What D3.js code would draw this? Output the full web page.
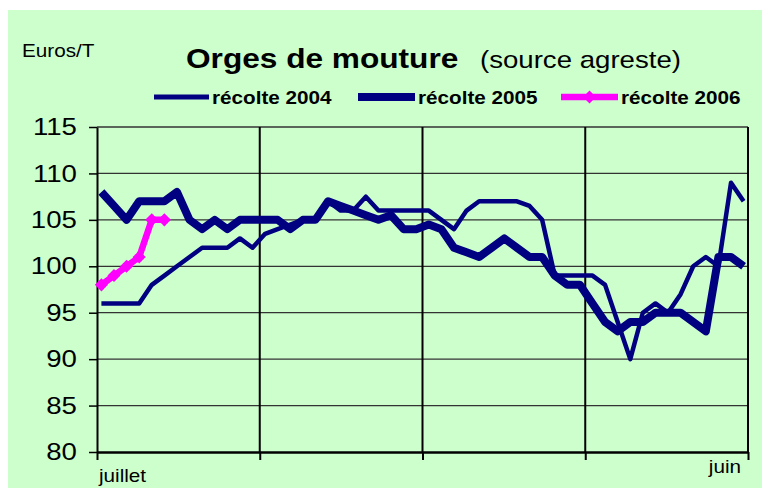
<!DOCTYPE html>
<html>
<head>
<meta charset="utf-8">
<script src="https://cdn.jsdelivr.net/npm/d3@7"></script>
<style>
  body { margin: 0; background: #fff; }
  svg { display: block; font-family: "Liberation Sans", Arial, sans-serif; }
</style>
</head>
<body>
<svg id="chart" width="762" height="489"></svg>
<script>
// weekly prices, July -> June (52 weeks)
var weeks = d3.range(52);
var xLabels = ["juillet", "juin"];
var yTicks = [80, 85, 90, 95, 100, 105, 110, 115];
var seriesNames = ["récolte 2004", "récolte 2005", "récolte 2006"];

var r2004 = [96, 96, 96, 96, 98, 99, 100, 101, 102, 102,
	102, 103, 102, 103.5, 104, 104.5, 105, 105, 107, 106,
	106, 107.5, 106, 106, 106, 106, 106, 105, 104, 106,
	107, 107, 107, 107, 106.5, 105, 99, 99, 99, 99,
	98, 94, 90, 95, 96, 95, 97, 100, 101, 100,
	109, 107];
var r2005 = [108, 106.5, 105, 107, 107, 107, 108, 105, 104, 105,
	104, 105, 105, 105, 105, 104, 105, 105, 107, 106.5,
	106, 105.5, 105, 105.5, 104, 104, 104.5, 104, 102, 101.5,
	101, 102, 103, 102, 101, 101, 99, 98, 98, 96,
	94, 93, 94, 94, 95, 95, 95, 94, 93, 101,
	101, 100];
var r2006 = [98, 99, 100, 101, 105, 105];

var NAVY = "#000080", PINK = "#ff00ff";
var SX = 1.15; // the source text is a bit wide

var svg = d3.select("#chart");

var box = { left: 97, right: 748, top: 127, bottom: 452 };

svg.append("rect")
	.attr("x", 8).attr("y", 10)
	.attr("width", 754).attr("height", 478)
	.attr("fill", "#ccffcc");

var x = d3.scaleLinear().domain([-0.35, 51.35]).range([box.left, box.right]);
var y = d3.scaleLinear().domain([80, 115]).range([box.bottom, box.top]);

// vertical grid every 13 weeks
var dom = x.domain();
var gridX = d3.range(5).map(function(k) { return dom[0] + k * (dom[1] - dom[0]) / 4; });

function text(x0, y0, s, size, weight, anchor) {
	return svg.append("text")
		.attr("transform", "translate(" + x0 + "," + y0 + ") scale(" + SX + ",1)")
		.attr("font-size", size)
		.attr("font-weight", weight || "normal")
		.attr("text-anchor", anchor || "start")
		.attr("fill", "#000")
		.text(s);
}

// horizontal grid
svg.append("g")
	.selectAll("line")
	.data(yTicks.filter(function(v) { return v > 80; }))
	.enter().append("line")
	.attr("x1", box.left).attr("x2", box.right)
	.attr("y1", function(d) { return y(d); })
	.attr("y2", function(d) { return y(d); })
	.attr("stroke", "#333")
	.attr("stroke-width", 1.3);

// vertical grid
svg.append("g")
	.selectAll("line")
	.data(gridX.slice(1))
	.enter().append("line")
	.attr("x1", function(d) { return x(d); })
	.attr("x2", function(d) { return x(d); })
	.attr("y1", box.top).attr("y2", box.bottom)
	.attr("stroke", "#000")
	.attr("stroke-width", 2);

// axes
var yAxis = svg.append("g")
	.attr("transform", "translate(" + box.left + ",0)")
	.call(d3.axisLeft(y).tickValues(yTicks).tickSize(8).tickSizeOuter(0));
yAxis.select(".domain").attr("stroke-width", 2);
yAxis.selectAll(".tick line").attr("stroke-width", 1.5);
yAxis.selectAll("text")
	.attr("x", -17.5)
	.attr("transform", "scale(" + SX + ",1)")
	.attr("font-size", 24)
	.attr("font-family", "Liberation Sans, Arial, sans-serif")
	.attr("fill", "#000");

var xAxis = svg.append("g")
	.attr("transform", "translate(0," + box.bottom + ")")
	.call(d3.axisBottom(x).tickValues(gridX).tickSize(8).tickSizeOuter(0).tickFormat(""));
xAxis.select(".domain").attr("stroke-width", 2.5);
xAxis.selectAll(".tick line").attr("stroke-width", 2);

// series
var line = d3.line()
	.x(function(d, i) { return x(weeks[i]); })
	.y(function(d) { return y(d); });

function drawSeries(data, color, width) {
	svg.append("path")
		.datum(data)
		.attr("d", line)
		.attr("fill", "none")
		.attr("stroke", color)
		.attr("stroke-width", width)
		.attr("stroke-linejoin", "round");
}

drawSeries(r2004, NAVY, 4.5);
drawSeries(r2005, NAVY, 8);
drawSeries(r2006, PINK, 6.5);

var diamond = d3.symbol().type(d3.symbolSquare).size(85);
svg.append("g")
	.selectAll("path")
	.data(r2006)
	.enter().append("path")
	.attr("d", diamond)
	.attr("transform", function(d, i) {
		return "translate(" + x(weeks[i]) + "," + y(d) + ") rotate(45)";
	})
	.attr("fill", PINK);

// titles
text(186, 68, "Orges de mouture", 27.5, "bold");
text(480, 68, "(source agreste)", 24);
text(22, 57, "Euros/T", 18);

// x labels
text(99, 482, xLabels[0], 18);
text(741, 473, xLabels[1], 18, "normal", "end");

// legend
var legend = [
	{ name: seriesNames[0], color: NAVY, w: 5, x0: 154, x1: 209, tx: 212 },
	{ name: seriesNames[1], color: NAVY, w: 8, x0: 358, x1: 415, tx: 418 },
	{ name: seriesNames[2], color: PINK, w: 6.5, x0: 561, x1: 618, tx: 621, marker: true }
];
legend.forEach(function(l) {
	svg.append("line")
		.attr("x1", l.x0).attr("x2", l.x1)
		.attr("y1", 97).attr("y2", 97)
		.attr("stroke", l.color)
		.attr("stroke-width", l.w);
	if (l.marker) {
		svg.append("path")
			.attr("d", diamond)
			.attr("transform", "translate(" + ((l.x0 + l.x1) / 2) + ",97) rotate(45)")
			.attr("fill", l.color);
	}
	text(l.tx, 104, l.name, 18, "bold");
});
</script>
</body>
</html>
